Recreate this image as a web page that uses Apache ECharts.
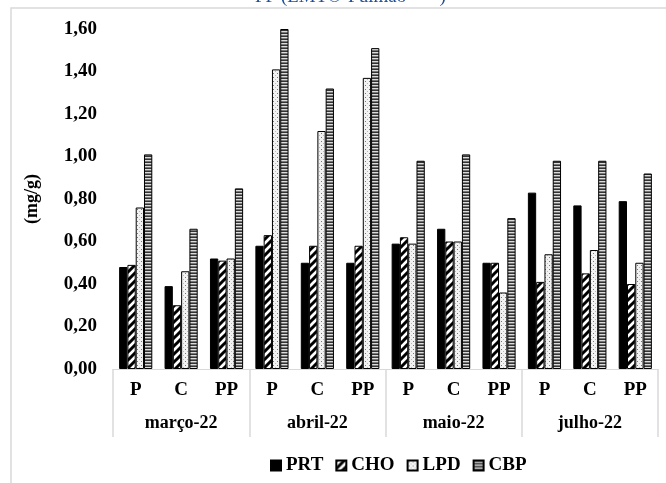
<!DOCTYPE html>
<html>
<head>
<meta charset="utf-8">
<script src="https://cdn.jsdelivr.net/npm/echarts@6/dist/echarts.min.js"></script>
<style>
  html, body { margin: 0; padding: 0; background: #fff; }
  #chart { width: 666px; height: 483px; }
</style>
</head>
<body>
<div id="chart"></div>
<script>
var categories = ['P', 'C', 'PP', 'P', 'C', 'PP', 'P', 'C', 'PP', 'P', 'C', 'PP'];
var months = ['março-22', 'abril-22', 'maio-22', 'julho-22'];
var seriesNames = ['PRT', 'CHO', 'LPD', 'CBP'];

var prt = [0.48, 0.39, 0.52, 0.58, 0.50, 0.50, 0.59, 0.66, 0.50, 0.83, 0.77, 0.79];
var cho = [0.49, 0.30, 0.51, 0.63, 0.58, 0.58, 0.62, 0.60, 0.50, 0.41, 0.45, 0.40];
var lpd = [0.76, 0.46, 0.52, 1.41, 1.12, 1.37, 0.59, 0.60, 0.36, 0.54, 0.56, 0.50];
var cbp = [1.01, 0.66, 0.85, 1.60, 1.32, 1.51, 0.98, 1.01, 0.71, 0.98, 0.98, 0.92];

var serif = '"Liberation Serif", "DejaVu Serif", serif';

// padrões de preenchimento das barras
function makePattern(kind) {
	var c = document.createElement('canvas');
	var ctx = c.getContext('2d');
	if (kind == 'diag') {
		c.width = 8; c.height = 8;
		ctx.fillStyle = '#fff';
		ctx.fillRect(0, 0, 8, 8);
		ctx.strokeStyle = '#000';
		ctx.lineWidth = 3;
		ctx.beginPath();
		ctx.moveTo(-2, 10); ctx.lineTo(10, -2);
		ctx.moveTo(-6, 6); ctx.lineTo(6, -6);
		ctx.moveTo(2, 14); ctx.lineTo(14, 2);
		ctx.stroke();
	} else if (kind == 'dots') {
		c.width = 4; c.height = 4;
		ctx.fillStyle = '#f2f2f2';
		ctx.fillRect(0, 0, 4, 4);
		ctx.fillStyle = '#777';
		ctx.fillRect(1, 1, 1, 1);
		ctx.fillStyle = '#bbb';
		ctx.fillRect(3, 3, 1, 1);
	} else if (kind == 'hlines') {
		c.width = 4; c.height = 3;
		ctx.fillStyle = '#dcdcdc';
		ctx.fillRect(0, 0, 4, 3);
		ctx.fillStyle = '#333';
		ctx.fillRect(0, 0, 4, 1);
		ctx.fillStyle = '#777';
		ctx.fillRect(0, 2, 4, 1);
	}
	return { image: c, repeat: 'repeat' };
}

var fills = ['#000', makePattern('diag'), makePattern('dots'), makePattern('hlines')];
var values = [prt, cho, lpd, cbp];

var series = [];
for (var i = 0; i < seriesNames.length; i++) {
	series.push({
		name: seriesNames[i],
		type: 'bar',
		xAxisIndex: 0,
		barGap: '0%',
		barCategoryGap: '27%',
		itemStyle: { color: fills[i], borderColor: '#000', borderWidth: 1 },
		data: values[i]
	});
}

var chart = echarts.init(document.getElementById('chart'));
chart.setOption({
	animation: false,
	grid: { left: 113, right: 8, top: 29, bottom: 114 },
	graphic: [
		{
			type: 'rect',
			shape: { x: 11, y: 8, width: 700, height: 500 },
			style: { fill: 'none', stroke: '#d9d9d9', lineWidth: 1.5 }
		},
		{
			type: 'text',
			left: 255,
			top: -12,
			style: { text: 'FF (LMT®-Pulmão       )', font: '19px ' + serif, fill: '#1f4e9a' }
		}
	],
	legend: {
		data: seriesNames,
		left: 265,
		top: 451,
		icon: 'rect',
		itemWidth: 10,
		itemHeight: 10,
		itemGap: 12,
		textStyle: { fontFamily: serif, fontWeight: 'bold', fontSize: 19, color: '#000', padding: [0, 0, 0, 0] }
	},
	xAxis: [
		{
			type: 'category',
			data: categories,
			axisLine: { lineStyle: { color: '#d9d9d9' } },
			axisTick: { show: false },
			axisLabel: { fontFamily: serif, fontWeight: 'bold', fontSize: 19, color: '#000', margin: 12 }
		},
		{
			type: 'category',
			position: 'bottom',
			data: months,
			axisLine: { show: false },
			axisTick: { show: true, length: 68, lineStyle: { color: '#d9d9d9', width: 1.5 } },
			axisLabel: { fontFamily: serif, fontWeight: 'bold', fontSize: 18, color: '#000', margin: 45 }
		}
	],
	yAxis: {
		type: 'value',
		min: 0,
		max: 1.6,
		interval: 0.2,
		name: '(mg/g)',
		nameLocation: 'middle',
		nameGap: 72,
		nameRotate: 90,
		nameTextStyle: { fontFamily: serif, fontWeight: 'bold', fontSize: 18, color: '#000' },
		axisLine: { show: false },
		axisTick: { show: false },
		splitLine: { show: false },
		axisLabel: {
			fontFamily: serif, fontWeight: 'bold', fontSize: 19, color: '#000', margin: 16,
			formatter: function (v) { return v.toFixed(2).replace('.', ','); }
		}
	},
	series: series
});
</script>
</body>
</html>
